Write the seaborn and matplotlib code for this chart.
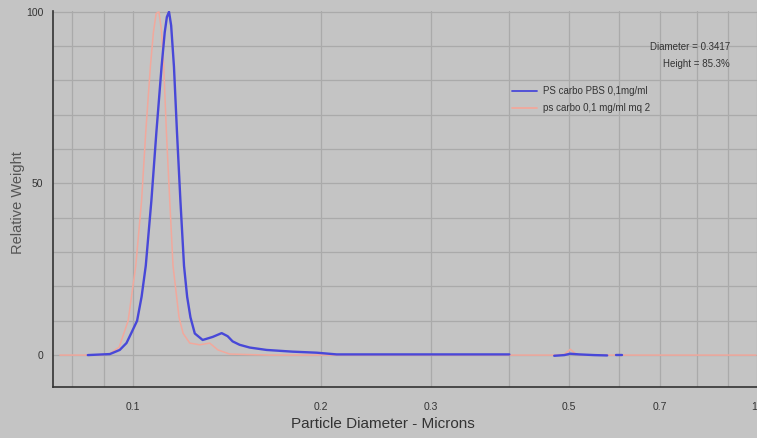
import numpy as np
import pandas as pd
import seaborn as sns
import matplotlib
matplotlib.use("Agg")
import matplotlib.pyplot as plt
from matplotlib.ticker import NullLocator, FixedLocator, FixedFormatter
from matplotlib.lines import Line2D

# ---------------- data ----------------
series_names = ["PS carbo PBS 0,1mg/ml", "ps carbo 0,1 mg/ml mq 2"]

# blue series: three separate pieces (gaps in the trace)
blue_d_1 = [0.0847, 0.0919, 0.0953, 0.0977, 0.0995, 0.1016, 0.1033, 0.1049, 0.1071,
            0.1091, 0.1112, 0.1125, 0.1134, 0.1143, 0.1152, 0.1164, 0.1177, 0.1192,
            0.1208, 0.1222, 0.1237, 0.1257, 0.1294, 0.1343, 0.1388, 0.1419, 0.1445,
            0.1483, 0.1539, 0.1638, 0.1803, 0.1970, 0.2121, 0.2674, 0.4011]
blue_w_1 = [0.0, 0.3, 1.5, 3.5, 6.5, 10, 17, 26, 45,
            65, 84, 94, 98.5, 100, 96, 84, 65, 45,
            26, 17, 11, 6.3, 4.4, 5.3, 6.4, 5.5, 4.0,
            3.0, 2.2, 1.5, 1.0, 0.7, 0.2, 0.2, 0.2]
blue_d_2 = [0.4733, 0.4912, 0.5022, 0.5192, 0.5486, 0.5754]
blue_w_2 = [-0.2, 0.0, 0.4, 0.2, 0.0, -0.1]
blue_d_3 = [0.5949, 0.6081]
blue_w_3 = [0.0, 0.0]

# pink series
pink_d = [0.0764, 0.0886, 0.0919, 0.0951, 0.0983, 0.1011, 0.1033, 0.1049, 0.1067,
          0.1079, 0.1090, 0.1101, 0.1111, 0.1121, 0.1132, 0.1146, 0.1160, 0.1186,
          0.1204, 0.1234, 0.1280, 0.1328, 0.1369, 0.1430, 0.1656, 0.2674, 0.4733,
          0.4912, 0.5022, 0.5134, 0.5386, 0.9963]
pink_w = [0.0, 0.0, 0.4, 2.3, 10, 26, 45, 65, 84,
          94, 99.5, 100, 95, 84, 65, 45, 26, 11,
          6.3, 3.5, 3.0, 3.5, 1.5, 0.3, 0.0, 0.0, 0.0,
          0.2, 1.7, 0.2, 0.0, 0.0]

x_ticks = [0.08, 0.09, 0.1, 0.2, 0.3, 0.4, 0.5, 0.6, 0.7, 0.8, 0.9, 1.0]
x_tick_labels = ["", "", "0.1", "0.2", "0.3", "", "0.5", "", "0.7", "", "", "1"]
y_ticks = [0, 10, 20, 30, 40, 50, 60, 70, 80, 90, 100]
y_tick_labels = ["0", "", "", "", "", "50", "", "", "", "", "100"]

annot_lines = ["Diameter = 0.3417", "Height = 85.3%"]

# ---------------- build tables ----------------
df_blue = pd.concat([
    pd.DataFrame({"d": blue_d_1, "w": blue_w_1, "seg": 1}),
    pd.DataFrame({"d": blue_d_2, "w": blue_w_2, "seg": 2}),
    pd.DataFrame({"d": blue_d_3, "w": blue_w_3, "seg": 3}),
], ignore_index=True)
df_pink = pd.DataFrame({"d": pink_d, "w": pink_w, "seg": 1})

# ---------------- style ----------------
bg = "#c4c4c4"
grid_c = "#aaaaaa"
blue_c = "#4848d8"
pink_c = "#f2a89c"
ink = "#333333"

sns.set_style("white")
plt.rcParams["font.family"] = ["Liberation Sans", "DejaVu Sans"]

fig = plt.figure(figsize=(7.57, 4.38), dpi=100, facecolor=bg)
ax = fig.add_axes([0.070, 0.1164, 0.930, 0.859])
ax.set_facecolor(bg)

sns.lineplot(data=df_pink, x="d", y="w", units="seg", estimator=None, sort=False,
             color=pink_c, lw=1.1, ax=ax, legend=False)
sns.lineplot(data=df_blue, x="d", y="w", units="seg", estimator=None, sort=False,
             color=blue_c, lw=1.7, ax=ax, legend=False)

ax.set_xscale("log")
ax.set_xlim(0.0745, 1.0)
ax.set_ylim(-9.3, 100.3)

ax.xaxis.set_major_locator(FixedLocator(x_ticks))
ax.xaxis.set_major_formatter(FixedFormatter(x_tick_labels))
ax.xaxis.set_minor_locator(NullLocator())
ax.yaxis.set_major_locator(FixedLocator(y_ticks))
ax.yaxis.set_major_formatter(FixedFormatter(y_tick_labels))
ax.yaxis.set_minor_locator(NullLocator())

ax.grid(True, color=grid_c, lw=0.9)
ax.set_axisbelow(True)

for s in ["top", "right"]:
    ax.spines[s].set_visible(False)
for s in ["left", "bottom"]:
    ax.spines[s].set_color(ink)
    ax.spines[s].set_linewidth(1.2)

ax.tick_params(axis="x", direction="out", length=5, width=1.0, color=ink,
               labelsize=7.5, labelcolor=ink, pad=6)
ax.tick_params(axis="y", direction="out", length=4, width=1.0, color=ink,
               labelsize=7.5, labelcolor=ink, pad=3)
# keep the last label ("1") inside the picture edge
ax.get_xticklabels()[-1].set_ha("right")

ax.set_xlabel("Particle Diameter - Microns", fontsize=11, color=ink)
ax.set_ylabel("Relative Weight", fontsize=10.5, color="#555555")
ax.xaxis.set_label_coords(0.469, -0.098)
ax.yaxis.set_label_coords(-0.050, 0.49)
ax.xaxis.label.set_va("center")
ax.yaxis.label.set_va("center")

ax.text(0.962, 0.904, annot_lines[0], transform=ax.transAxes, ha="right", va="center",
        fontsize=7, color=ink)
ax.text(0.962, 0.859, annot_lines[1], transform=ax.transAxes, ha="right", va="center",
        fontsize=7, color=ink)

handles = [Line2D([], [], color=blue_c, lw=1.3), Line2D([], [], color=pink_c, lw=1.3)]
ax.legend(handles, series_names, loc="upper left", bbox_to_anchor=(0.652, 0.800),
          frameon=False, fontsize=7, handlelength=2.6, handletextpad=0.6,
          labelspacing=0.75, borderpad=0, borderaxespad=0, labelcolor=ink)

fig.savefig("out.png", dpi=100, facecolor=bg)
